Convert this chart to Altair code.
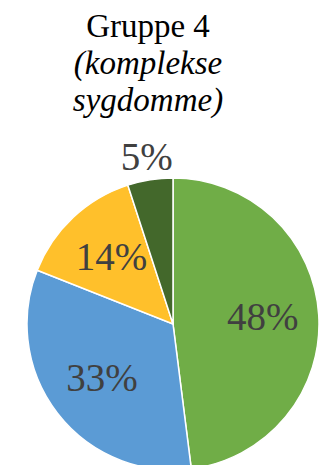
import altair as alt
import pandas as pd

categories = ["A", "B", "C", "D"]
values = [48, 33, 14, 5]
labels = ["48%", "33%", "14%", "5%"]
colors = ["#70AD47", "#5B9BD5", "#FFC02B", "#43682B"]
title_main = "Gruppe 4"
title_sub = ["(komplekse", "sygdomme)"]

df = pd.DataFrame({"cat": categories, "value": values, "label": labels,
                   "order": list(range(len(categories)))})
df["inside"] = df["value"] >= 10

CX, CY, R = 173, 324, 146
FONT = "Liberation Serif"

theta = alt.Theta("value:Q", stack=True)
order = alt.Order("order:Q")

base = alt.Chart(df)

arc = base.mark_arc(outerRadius=R, stroke="white", strokeWidth=1.5).encode(
    theta=theta,
    order=order,
    color=alt.Color("cat:N", scale=alt.Scale(domain=categories, range=colors), legend=None),
    x=alt.value(CX), y=alt.value(CY),
)

inner = base.mark_text(radius=90, font=FONT, fontSize=39, color="#404040",
                       baseline="middle", align="center").encode(
    theta=theta, order=order, text="label:N",
    x=alt.value(CX), y=alt.value(CY),
    opacity=alt.condition("datum.inside", alt.value(1), alt.value(0)),
)

outer = base.mark_text(radius=168, font=FONT, fontSize=39, color="#404040",
                       baseline="middle", align="center").encode(
    theta=theta, order=order, text="label:N",
    x=alt.value(CX), y=alt.value(CY),
    opacity=alt.condition("datum.inside", alt.value(0), alt.value(1)),
)

t1 = alt.Chart(pd.DataFrame({"t": [title_main]})).mark_text(
    font=FONT, fontSize=33, color="black", align="center", baseline="alphabetic"
).encode(text="t:N", x=alt.value(148), y=alt.value(37))

t2 = alt.Chart(pd.DataFrame({"t": ["\n".join(title_sub)]})).mark_text(
    font=FONT, fontSize=33, fontStyle="italic", color="black", align="center",
    baseline="alphabetic", lineBreak="\n", lineHeight=37
).encode(text="t:N", x=alt.value(148), y=alt.value(74))

chart = alt.layer(arc, inner, outer, t1, t2).properties(
    width=324, height=465, padding=0,
    autosize=alt.AutoSizeParams(type="none"),
).configure_view(stroke=None)

chart.save("out.html", embed_options={"renderer": "svg", "actions": False})
